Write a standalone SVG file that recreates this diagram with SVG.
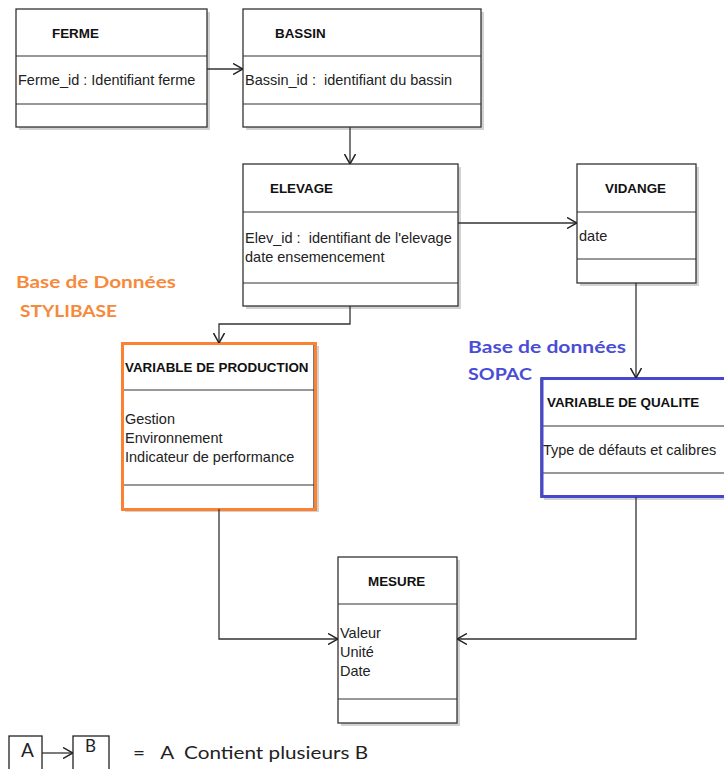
<svg xmlns="http://www.w3.org/2000/svg" width="724" height="769" viewBox="0 0 724 769">
<style>
.box{fill:#fff;stroke:#333;stroke-width:1.3}
.sh{fill:#d2d2d2}
.sep{stroke:#333;stroke-width:1.2}
.t{font-family:"Liberation Sans",Arial,sans-serif;font-size:13.4px;font-weight:bold;fill:#111}
.a{font-family:"Liberation Sans",Arial,sans-serif;font-size:14.5px;fill:#222}
.c{fill:none;stroke:#333;stroke-width:1.3}
.lbl{font-family:Lato,"Open Sans",sans-serif;font-size:17px;font-weight:bold}
.leg{font-family:Lato,"Open Sans",sans-serif;fill:#222}
</style>
<defs>
<marker id="arr" viewBox="0 0 10 12" refX="10" refY="6" markerWidth="10" markerHeight="12" orient="auto" markerUnits="userSpaceOnUse">
<path d="M0,0.5 L10,6 L0,11.5" fill="none" stroke="#222" stroke-width="1.5"/>
</marker>
</defs>
<rect width="724" height="769" fill="#fff"/>

<g id="ferme">
<rect class="sh" x="19" y="12" width="191" height="118"/>
<rect class="box" x="16" y="9" width="191" height="118"/>
<line class="sep" x1="16" y1="56" x2="207" y2="56"/>
<line class="sep" x1="16" y1="104" x2="207" y2="104"/>
<text class="t" x="52" y="38">FERME</text>
<text class="a" x="18" y="85">Ferme_id : Identifiant ferme</text>
</g>

<g id="bassin">
<rect class="sh" x="246" y="12" width="238" height="118"/>
<rect class="box" x="243" y="9" width="238" height="118"/>
<line class="sep" x1="243" y1="56" x2="481" y2="56"/>
<line class="sep" x1="243" y1="104" x2="481" y2="104"/>
<text class="t" x="275" y="38">BASSIN</text>
<text class="a" x="245" y="85" xml:space="preserve">Bassin_id :  identifiant du bassin</text>
</g>

<g id="elevage">
<rect class="sh" x="246" y="167" width="215" height="142"/>
<rect class="box" x="243" y="164" width="215" height="142"/>
<line class="sep" x1="243" y1="212" x2="458" y2="212"/>
<line class="sep" x1="243" y1="283" x2="458" y2="283"/>
<text class="t" x="270" y="193">ELEVAGE</text>
<text class="a" x="245" y="243" xml:space="preserve">Elev_id :  identifiant de l'elevage</text>
<text class="a" x="245" y="262">date ensemencement</text>
</g>

<g id="vidange">
<rect class="sh" x="580" y="167" width="119" height="119"/>
<rect class="box" x="577" y="164" width="119" height="119"/>
<line class="sep" x1="577" y1="212" x2="696" y2="212"/>
<line class="sep" x1="577" y1="259" x2="696" y2="259"/>
<text class="t" x="605" y="193">VIDANGE</text>
<text class="a" x="579" y="241">date</text>
</g>

<g id="variable-production">
<rect class="sh" x="125" y="346" width="194" height="166"/>
<rect class="box" x="122" y="343" width="192" height="166"/>
<line class="sep" x1="122" y1="390" x2="314" y2="390"/>
<line class="sep" x1="122" y1="485" x2="314" y2="485"/>
<rect x="122.5" y="343.5" width="193" height="166" fill="none" stroke="#FA8232" stroke-width="3"/>
<text class="t" x="125" y="372">VARIABLE DE PRODUCTION</text>
<text class="a" x="125" y="424">Gestion</text>
<text class="a" x="125" y="443">Environnement</text>
<text class="a" x="125" y="462">Indicateur de performance</text>
</g>

<g id="variable-qualite">
<rect class="sh" x="544" y="381" width="190" height="119"/>
<rect class="box" x="541" y="378" width="190" height="119"/>
<line class="sep" x1="541" y1="426" x2="724" y2="426"/>
<line class="sep" x1="541" y1="473" x2="724" y2="473"/>
<rect x="542" y="378.5" width="190" height="118" fill="none" stroke="#4747CF" stroke-width="3"/>
<text class="t" x="547" y="407">VARIABLE DE QUALITE</text>
<text class="a" x="543" y="455">Type de défauts et calibres</text>
</g>

<g id="mesure">
<rect class="sh" x="341" y="560" width="119" height="166"/>
<rect class="box" x="338" y="557" width="119" height="166"/>
<line class="sep" x1="338" y1="604" x2="457" y2="604"/>
<line class="sep" x1="338" y1="699" x2="457" y2="699"/>
<text class="t" x="368" y="586">MESURE</text>
<text class="a" x="340" y="638">Valeur</text>
<text class="a" x="340" y="657">Unité</text>
<text class="a" x="340" y="676">Date</text>
</g>

<g id="label-stylibase">
<text class="lbl" x="16" y="288" fill="#F68A3C" textLength="160" lengthAdjust="spacingAndGlyphs">Base de Données</text>
<text class="lbl" x="20" y="317" fill="#F68A3C" textLength="97" lengthAdjust="spacingAndGlyphs">STYLIBASE</text>
</g>

<g id="label-sopac">
<text class="lbl" x="468" y="353" fill="#4B4ED4" textLength="158" lengthAdjust="spacingAndGlyphs">Base de données</text>
<text class="lbl" x="468" y="380" fill="#4B4ED4" textLength="64" lengthAdjust="spacingAndGlyphs">SOPAC</text>
</g>

<g id="connectors">
<path class="c" d="M207,69 H243" marker-end="url(#arr)"/>
<path class="c" d="M350,127 V164" marker-end="url(#arr)"/>
<path class="c" d="M458,223 H577" marker-end="url(#arr)"/>
<path class="c" d="M350,306 V324 H219 V343" marker-end="url(#arr)"/>
<path class="c" d="M636,283 V378" marker-end="url(#arr)"/>
<path class="c" d="M219,509 V639 H338" marker-end="url(#arr)"/>
<path class="c" d="M636,497 V639 H457" marker-end="url(#arr)"/>
</g>

<g id="legend">
<rect x="9" y="736" width="33" height="34" fill="#fff" stroke="#222" stroke-width="1.3"/>
<rect x="73" y="736" width="36" height="34" fill="#fff" stroke="#222" stroke-width="1.3"/>
<path class="c" d="M42,753 H73" marker-end="url(#arr)"/>
<text class="leg" x="21" y="757" font-size="19">A</text>
<text class="leg" x="85" y="752" font-size="17">B</text>
<text class="leg" x="133" y="759" font-size="18" xml:space="preserve" textLength="235" lengthAdjust="spacingAndGlyphs">=   A  Contient plusieurs B</text>
</g>
</svg>
